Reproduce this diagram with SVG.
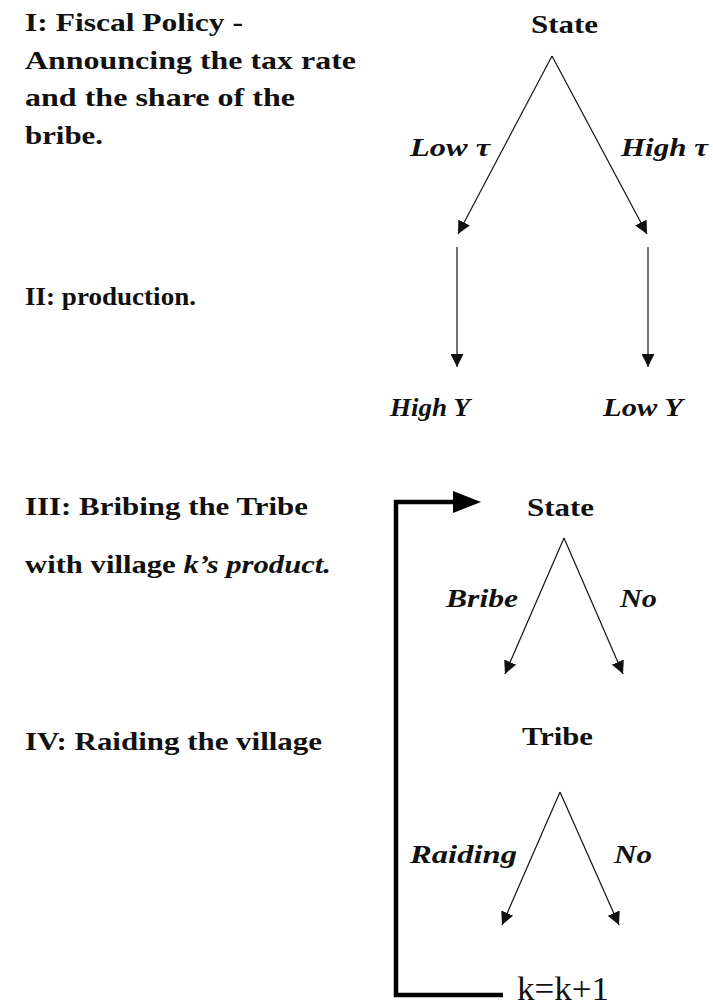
<svg xmlns="http://www.w3.org/2000/svg" width="713" height="1006" viewBox="0 0 713 1006">
<style>
.lt{font-family:"Liberation Serif","Times New Roman",serif;font-weight:bold;font-size:25px;fill:#111}
.nd{font-family:"Liberation Serif","Times New Roman",serif;font-weight:bold;font-size:25px;fill:#111}
.lb{font-family:"Liberation Serif","Times New Roman",serif;font-weight:bold;font-style:italic;font-size:25px;fill:#111}
.k{font-family:"Liberation Serif","Times New Roman",serif;font-size:34px;fill:#111}
.ln{stroke:#111;stroke-width:1.2;fill:none}
.br{stroke:#000;stroke-width:4.5;fill:none}
</style>
<defs>
<marker id="ah" viewBox="0 0 10 10" refX="10" refY="5" markerWidth="13" markerHeight="13" markerUnits="userSpaceOnUse" orient="auto">
<path d="M0,0 L10,5 L0,10 z" fill="#111"/>
</marker>
</defs>
<rect width="713" height="1006" fill="#fff"/>
<g id="stage-labels">
<text class="lt" x="25" y="31" textLength="218" lengthAdjust="spacingAndGlyphs">I: Fiscal Policy -</text>
<text class="lt" x="25" y="69" textLength="331" lengthAdjust="spacingAndGlyphs">Announcing the tax rate</text>
<text class="lt" x="25" y="106" textLength="270" lengthAdjust="spacingAndGlyphs">and the share of the</text>
<text class="lt" x="25" y="144" textLength="78" lengthAdjust="spacingAndGlyphs">bribe.</text>
<text class="lt" x="25" y="305" textLength="171" lengthAdjust="spacingAndGlyphs">II: production.</text>
<text class="lt" x="25" y="515" textLength="283" lengthAdjust="spacingAndGlyphs">III: Bribing the Tribe</text>
<text class="lt" x="25" y="573" textLength="306" lengthAdjust="spacingAndGlyphs">with village <tspan font-style="italic">k’s product.</tspan></text>
<text class="lt" x="25" y="750" textLength="297" lengthAdjust="spacingAndGlyphs">IV: Raiding the village</text>
</g>
<g id="node-state1"><text class="nd" x="531" y="33" textLength="67" lengthAdjust="spacingAndGlyphs">State</text></g>
<g id="node-highY"><text class="lb" x="390" y="416" textLength="80" lengthAdjust="spacingAndGlyphs">High Y</text></g>
<g id="node-lowY"><text class="lb" x="603" y="416" textLength="80" lengthAdjust="spacingAndGlyphs">Low Y</text></g>
<g id="node-state2"><text class="nd" x="527" y="516" textLength="67" lengthAdjust="spacingAndGlyphs">State</text></g>
<g id="node-tribe"><text class="nd" x="522" y="745" textLength="71" lengthAdjust="spacingAndGlyphs">Tribe</text></g>
<g id="node-k"><text class="k" x="517" y="1000" textLength="92" lengthAdjust="spacingAndGlyphs">k=k+1</text></g>
<g id="connectors">
<line class="ln" x1="552" y1="56" x2="458" y2="234" marker-end="url(#ah)"/>
<line class="ln" x1="552" y1="56" x2="647" y2="234" marker-end="url(#ah)"/>
<line class="ln" x1="457" y1="247" x2="457" y2="367" marker-end="url(#ah)"/>
<line class="ln" x1="648" y1="247" x2="648" y2="367" marker-end="url(#ah)"/>
<line class="ln" x1="564" y1="538" x2="505" y2="674" marker-end="url(#ah)"/>
<line class="ln" x1="564" y1="538" x2="623" y2="674" marker-end="url(#ah)"/>
<line class="ln" x1="560" y1="792" x2="502" y2="925" marker-end="url(#ah)"/>
<line class="ln" x1="560" y1="792" x2="619" y2="925" marker-end="url(#ah)"/>
<path class="br" d="M503,995 H396 V502 H456"/>
<polygon points="453,491 481,502 453,513" fill="#000"/>
</g>
<g id="edge-labels">
<text class="lb" x="410" y="156" textLength="80" lengthAdjust="spacingAndGlyphs">Low τ</text>
<text class="lb" x="621" y="156" textLength="87" lengthAdjust="spacingAndGlyphs">High τ</text>
<text class="lb" x="446" y="607" textLength="72" lengthAdjust="spacingAndGlyphs">Bribe</text>
<text class="lb" x="620" y="607" textLength="37" lengthAdjust="spacingAndGlyphs">No</text>
<text class="lb" x="410" y="863" textLength="107" lengthAdjust="spacingAndGlyphs">Raiding</text>
<text class="lb" x="614" y="863" textLength="38" lengthAdjust="spacingAndGlyphs">No</text>
</g>
</svg>
